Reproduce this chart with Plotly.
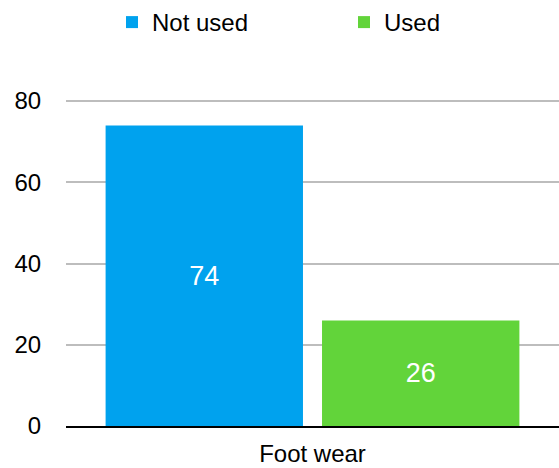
import plotly.graph_objects as go

categories = ["Foot wear"]
series_names = ["Not used", "Used"]
not_used = [74]
used = [26]
colors = ["#00A2EE", "#62D43A"]
y_ticks = [0, 20, 40, 60, 80]

FONT = "Liberation Sans, Arial, sans-serif"

fig = go.Figure()
for name, vals, col in zip(series_names, [not_used, used], colors):
    fig.add_trace(go.Bar(
        x=categories, y=vals, name=name,
        marker=dict(color=col, line=dict(width=0)),
        text=[str(v) for v in vals],
        textposition="inside", insidetextanchor="middle",
        textfont=dict(color="white", size=27, family=FONT),
        textangle=0,
    ))

fig.update_layout(
    width=559, height=468,
    margin=dict(l=66, r=0, t=97, b=42, autoexpand=False),
    paper_bgcolor="white", plot_bgcolor="white",
    barmode="group", bargap=0.122, bargroupgap=0.088,
    font=dict(family=FONT, color="#000000"),
    showlegend=True,
    legend=dict(
        orientation="h", xref="container", yref="container",
        x=112 / 559, xanchor="left", y=1.0, yanchor="top",
        font=dict(size=24, family=FONT, color="#000000"),
        entrywidth=187, entrywidthmode="pixels",
        itemwidth=30, traceorder="normal",
        bgcolor="rgba(0,0,0,0)",
    ),
    xaxis=dict(
        showline=True, linecolor="#000000", linewidth=2,
        ticks="", ticklabelstandoff=5,
        tickfont=dict(size=24, family=FONT, color="#000000"),
        showgrid=False,
    ),
    yaxis=dict(
        range=[0, 81], tickvals=y_ticks,
        showgrid=True, gridcolor="#BDBDBD", gridwidth=2,
        zeroline=False, showline=False,
        ticks="outside", ticklen=0, ticklabelstandoff=19,
        tickfont=dict(size=24, family=FONT, color="#000000"),
    ),
)

fig.write_html("out.html")
